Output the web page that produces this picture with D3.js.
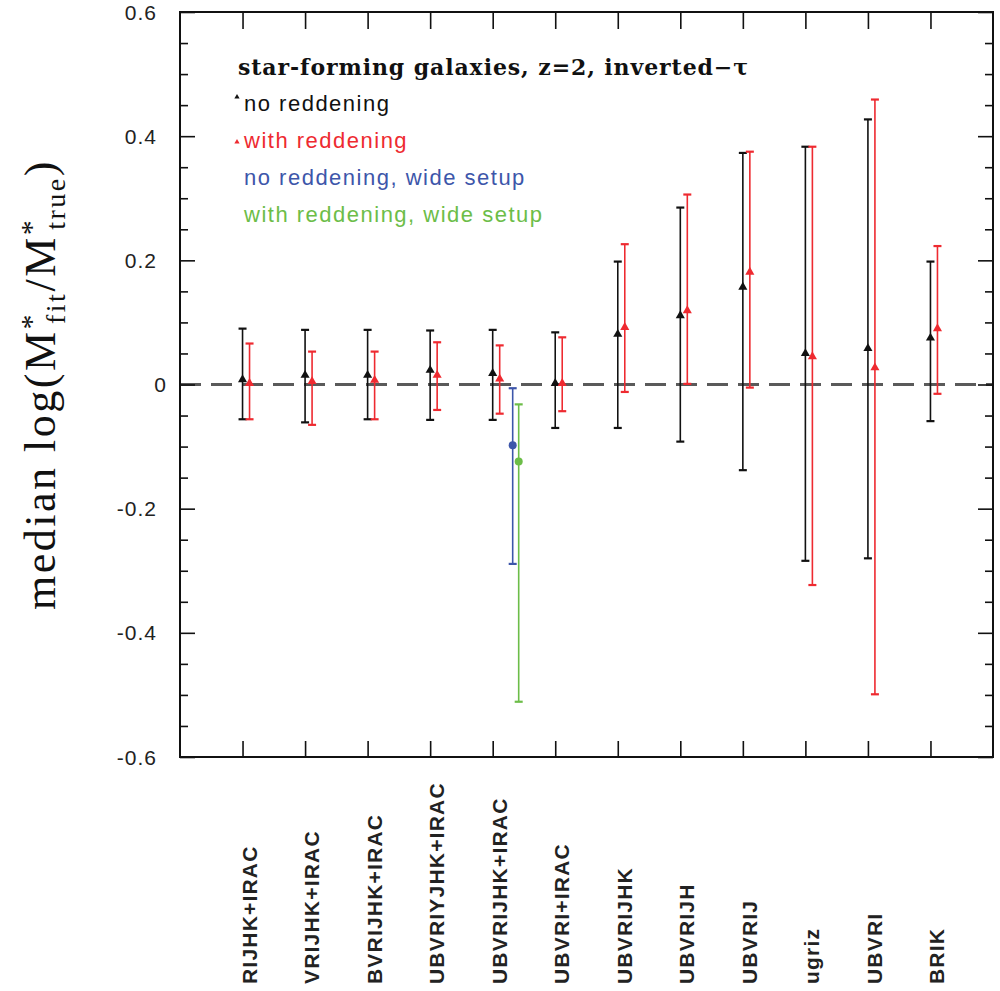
<!DOCTYPE html>
<html>
<head>
<meta charset="utf-8">
<script src="https://cdn.jsdelivr.net/npm/d3@7"></script>
<style>
  html, body { margin: 0; padding: 0; background: #fff; }
  svg { display: block; }
</style>
</head>
<body>
<div id="chart"></div>
<script>
// ---------------- data ----------------
const categories = ["RIJHK+IRAC","VRIJHK+IRAC","BVRIJHK+IRAC","UBVRIYJHK+IRAC","UBVRIJHK+IRAC",
  "UBVRI+IRAC","UBVRIJHK","UBVRIJH","UBVRIJ","ugriz","UBVRI","BRIK"];

const noRedMedian = [0.008, 0.015, 0.015, 0.023, 0.018, 0.002, 0.081, 0.111, 0.157, 0.050, 0.058, 0.075];
const noRedHigh   = [0.090, 0.088, 0.088, 0.087, 0.088, 0.084, 0.198, 0.285, 0.373, 0.383, 0.427, 0.198];
const noRedLow    = [-0.056, -0.061, -0.056, -0.057, -0.057, -0.070, -0.070, -0.092, -0.138, -0.284, -0.280, -0.059];

const redMedian = [0.002, 0.005, 0.007, 0.015, 0.009, 0.002, 0.092, 0.119, 0.181, 0.045, 0.027, 0.090];
const redHigh   = [0.066, 0.053, 0.053, 0.068, 0.063, 0.076, 0.226, 0.306, 0.375, 0.383, 0.459, 0.223];
const redLow    = [-0.056, -0.065, -0.056, -0.041, -0.047, -0.043, -0.012, 0.001, -0.005, -0.323, -0.499, -0.015];

// wide setup (only for UBVRIJHK+IRAC)
const wideCategory = "UBVRIJHK+IRAC";
const wideNoRed = { median: -0.098, high: -0.006, low: -0.289 };
const wideRed   = { median: -0.124, high: -0.032, low: -0.511 };

const yTicks = [0.6, 0.4, 0.2, 0, -0.2, -0.4, -0.6];
const yTickLabels = ["0.6", "0.4", "0.2", "0", "-0.2", "-0.4", "-0.6"];

const titleText = "star-forming galaxies, z=2, inverted\u2212\u03c4";
const legendLabels = ["no reddening", "with reddening", "no reddening, wide setup", "with reddening, wide setup"];

// ---------------- layout ----------------
const W = 1000, H = 991;
const L = 180, R = 993, T = 12, B = 757;
const colBlack = "#111", colRed = "#ee2a30", colBlue = "#3d56aa", colGreen = "#6cbd48";

const svg = d3.select("#chart").append("svg").attr("width", W).attr("height", H);

const x = d3.scaleLinear().domain([0, categories.length + 1]).range([L, R]);
const y = d3.scaleLinear().domain([-0.6, 0.6]).range([B, T]);
const cx = i => x(i + 1);

// zero dashed line
svg.append("line")
  .attr("x1", L).attr("x2", R).attr("y1", y(0)).attr("y2", y(0))
  .attr("stroke", "#5a5a5a").attr("stroke-width", 3).attr("stroke-dasharray", "21,10");

// axes: left & right with major + minor ticks
const minorTicks = d3.range(-0.6, 0.6001, 0.05).map(v => +v.toFixed(2)).filter(v => !yTicks.includes(v));
const leftAxis = d3.axisRight(y).tickValues(yTicks).tickSize(15).tickFormat("");
const leftMinor = d3.axisRight(y).tickValues(minorTicks).tickSize(8).tickFormat("");
const rightAxis = d3.axisLeft(y).tickValues(yTicks).tickSize(15).tickFormat("");
const rightMinor = d3.axisLeft(y).tickValues(minorTicks).tickSize(8).tickFormat("");
[[leftAxis, L], [leftMinor, L], [rightAxis, R], [rightMinor, R]].forEach(([ax, px]) => {
  const g = svg.append("g").attr("transform", `translate(${px},0)`).call(ax);
  g.select(".domain").remove();
  g.selectAll("line").attr("stroke", "#111").attr("stroke-width", 1.6);
});
// top & bottom category ticks
const catVals = categories.map((c, i) => i + 1);
const topAxis = d3.axisBottom(x).tickValues(catVals).tickSize(17).tickFormat("");
const botAxis = d3.axisTop(x).tickValues(catVals).tickSize(16).tickFormat("");
[[topAxis, T], [botAxis, B]].forEach(([ax, py]) => {
  const g = svg.append("g").attr("transform", `translate(0,${py})`).call(ax);
  g.select(".domain").remove();
  g.selectAll("line").attr("stroke", "#111").attr("stroke-width", 1.6);
});

// frame
svg.append("rect").attr("x", L).attr("y", T).attr("width", R - L).attr("height", B - T)
  .attr("fill", "none").attr("stroke", "#111").attr("stroke-width", 2);

// y tick labels
svg.append("g").selectAll("text").data(yTicks).join("text")
  .attr("x", d => d === 0 ? 167 : 157)
  .attr("y", d => y(d))
  .attr("dy", "0.36em")
  .attr("text-anchor", "end")
  .attr("font-family", "'Liberation Sans', Arial, sans-serif")
  .attr("font-size", 21)
  .attr("letter-spacing", 1)
  .attr("fill", "#222")
  .text((d, i) => yTickLabels[i]);

// y axis title
const yt = svg.append("text")
  .attr("transform", "translate(55,610) rotate(-90)")
  .attr("font-family", "'Liberation Serif', 'Times New Roman', serif")
  .attr("font-size", 44)
  .attr("letter-spacing", 2.5)
  .attr("fill", "#111");
yt.append("tspan").text("median log(M");
yt.append("tspan").attr("font-size", 30).attr("dy", -14).text("*");
yt.append("tspan").attr("font-size", 28).attr("dy", 24).attr("dx", -12).text("fit");
yt.append("tspan").attr("dy", -10).text("/M");
yt.append("tspan").attr("font-size", 30).attr("dy", -14).text("*");
yt.append("tspan").attr("font-size", 28).attr("dy", 24).attr("dx", -12).text("true");
yt.append("tspan").attr("dy", -10).text(")");

// x category labels
svg.append("g").selectAll("text").data(categories).join("text")
  .attr("transform", (d, i) => `translate(${cx(i) + 14},984) rotate(-90)`)
  .attr("text-anchor", "start")
  .attr("font-family", "'Liberation Sans', Arial, sans-serif")
  .attr("font-weight", "bold")
  .attr("font-size", 21)
  .attr("letter-spacing", 1.2)
  .attr("fill", "#222")
  .text(d => d);

// error bars
function errorBars(xs, meds, lows, highs, color, width, cap) {
  const g = svg.append("g");
  const idx = d3.range(meds.length);
  g.selectAll("line.v").data(idx).join("line")
    .attr("x1", i => xs(i)).attr("x2", i => xs(i))
    .attr("y1", i => y(lows[i])).attr("y2", i => y(highs[i]))
    .attr("stroke", color).attr("stroke-width", width);
  g.selectAll("line.h").data(idx).join("line")
    .attr("x1", i => xs(i) - cap).attr("x2", i => xs(i) + cap)
    .attr("y1", i => y(highs[i])).attr("y2", i => y(highs[i]))
    .attr("stroke", color).attr("stroke-width", width + 0.6);
  g.selectAll("line.l").data(idx).join("line")
    .attr("x1", i => xs(i) - cap).attr("x2", i => xs(i) + cap)
    .attr("y1", i => y(lows[i])).attr("y2", i => y(lows[i]))
    .attr("stroke", color).attr("stroke-width", width + 0.6);
  return g;
}
const triangle = d3.symbol().type(d3.symbolTriangle).size(36);

const gBlack = errorBars(i => cx(i), noRedMedian, noRedLow, noRedHigh, colBlack, 1.6, 4);
gBlack.selectAll("path").data(noRedMedian).join("path")
  .attr("d", triangle).attr("transform", (d, i) => `translate(${cx(i)},${y(d)})`)
  .attr("fill", colBlack);

const gRed = errorBars(i => cx(i) + 7, redMedian, redLow, redHigh, colRed, 1.6, 4);
gRed.selectAll("path").data(redMedian).join("path")
  .attr("d", triangle).attr("transform", (d, i) => `translate(${cx(i) + 7},${y(d)})`)
  .attr("fill", colRed);

// wide setups
const wi = categories.indexOf(wideCategory);
[[wideNoRed, colBlue, 20], [wideRed, colGreen, 26]].forEach(([w, col, off]) => {
  const g = errorBars(() => cx(wi) + off, [w.median], [w.low], [w.high], col, 1.6, 4);
  g.append("circle").attr("cx", cx(wi) + off).attr("cy", y(w.median)).attr("r", 4).attr("fill", col);
});

// legend
svg.append("text")
  .attr("x", 238).attr("y", 75)
  .attr("font-family", "'DejaVu Serif', serif")
  .attr("font-weight", "bold")
  .attr("font-size", 22)
  .attr("textLength", 510)
  .attr("lengthAdjust", "spacing")
  .attr("fill", "#111")
  .text(titleText);

const legendColors = [colBlack, colRed, colBlue, colGreen];
const legendY = [111, 148, 185, 222];
legendLabels.forEach((t, i) => {
  svg.append("text")
    .attr("x", 244).attr("y", legendY[i])
    .attr("font-family", "'Liberation Sans', Arial, sans-serif")
    .attr("font-size", 22)
    .attr("letter-spacing", 1.5)
    .attr("fill", legendColors[i])
    .text(t);
});
const smallTri = d3.symbol().type(d3.symbolTriangle).size(12);
[[colBlack, 97], [colRed, 142]].forEach(([c, yy]) => {
  svg.append("path").attr("d", smallTri).attr("transform", `translate(237,${yy})`).attr("fill", c);
});
</script>
</body>
</html>
